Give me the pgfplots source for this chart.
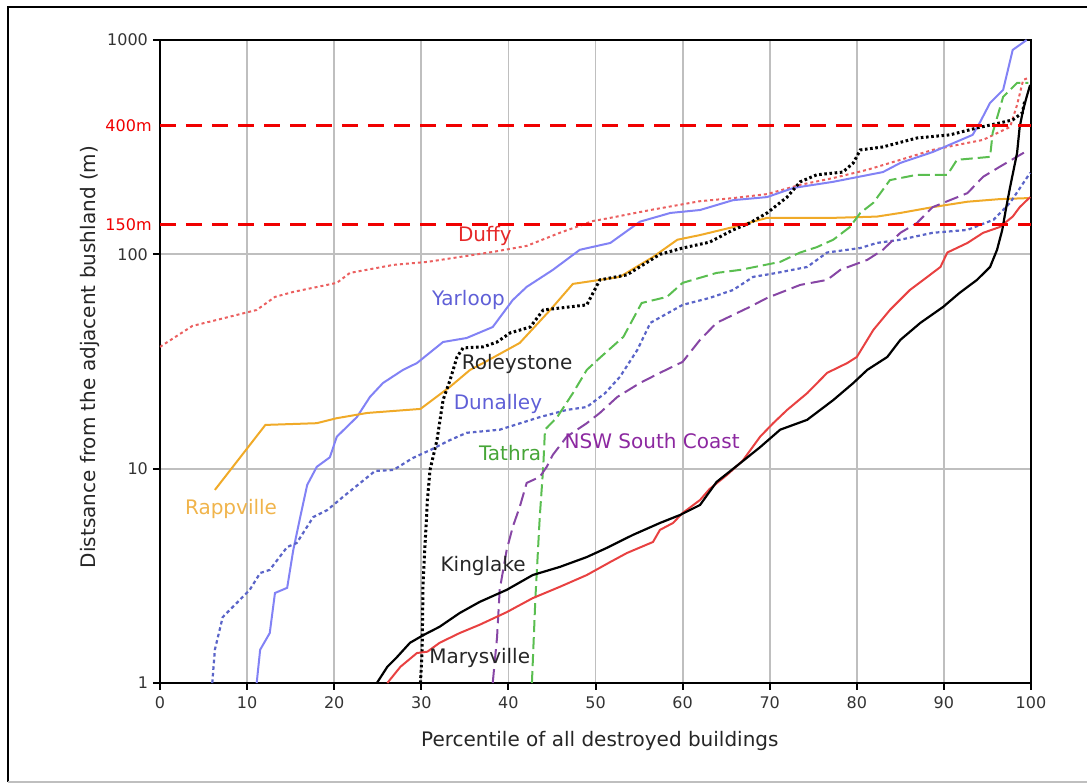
\documentclass[border=0pt]{standalone}
\usepackage{pgfplots}
\pgfplotsset{compat=1.18}
\usepackage{fontspec}
\setmainfont{DejaVu Sans}
\definecolor{duffy}{RGB}{235,95,95}
\definecolor{duffyl}{RGB}{230,40,40}
\definecolor{mary}{RGB}{232,65,65}
\definecolor{yarl}{RGB}{130,130,245}
\definecolor{yarll}{RGB}{95,95,215}
\definecolor{dunal}{RGB}{90,100,200}
\definecolor{rapp}{RGB}{240,170,40}
\definecolor{rappl}{RGB}{240,180,75}
\definecolor{tath}{RGB}{90,190,80}
\definecolor{tathl}{RGB}{70,165,55}
\definecolor{nsw}{RGB}{135,70,165}
\definecolor{nswl}{RGB}{140,40,160}
\definecolor{refred}{RGB}{240,0,0}
\begin{document}
\begin{tikzpicture}
\begin{axis}[
  at={(0,0)}, anchor=south west,
  scale only axis, width=435.5pt, height=321.5pt,
  xmin=0, xmax=100, ymin=1, ymax=1000, ymode=log,
  xtick={0,10,...,100}, ytick={1,10,100,1000}, yticklabels={1,10,100,1000},
  yminorticks=false,
  grid=major, major grid style={gray!50, line width=0.9pt},
  axis line style={line width=1.4pt},
  tick style={black, line width=1pt}, tick align=outside, major tick length=3.5pt,
  xtick pos=bottom, ytick pos=left,
  ticklabel style={font=\fontsize{8}{9}\selectfont, text=black!80},
  yticklabel style={xshift=1pt},
  /pgf/number format/assume math mode=true,
  xlabel={Percentile of all destroyed buildings},
  ylabel={Distsance from the adjacent bushland (m)},
  label style={font=\fontsize{10}{12}\selectfont, text=black!85},
  x label style={at={(axis description cs:0.505,-0.09)}, anchor=center},
  y label style={at={(axis description cs:-0.08,0.507)}, anchor=center},
  clip mode=individual,
]
% Duffy
\addplot[duffy, line width=1pt, dash pattern=on 1.5pt off 1.5pt] coordinates {
(0,37.0) (3.7,46.3) (11.1,55.0) (13.2,63.3) (15.3,66.8) (20.3,73.6) (21.8,81.9) (26.8,89.3) (30.7,92.2) (34.4,97.2) (38.2,102.6) (42.1,109.5) (45.9,126) (49.7,143) (51.7,148) (56.3,161) (62.0,177) (65.8,183) (69.7,191) (73.5,211) (77.3,227) (81.2,248) (85.0,276) (88.7,307) (92.7,331) (94.5,342) (97.6,393) (98.4,498) (99.1,651) (99.7,666)};
% Yarloop
\addplot[yarl, line width=1pt] coordinates {
(11.1,1.0) (11.5,1.43) (12.6,1.71) (13.2,2.63) (14.6,2.78) (15.3,4.17) (16.1,5.95) (16.9,8.4) (18.0,10.2) (19.5,11.3) (20.3,14.1) (22.6,17.4) (24.1,21.6) (25.6,25.1) (27.9,28.9) (29.5,31.1) (32.5,39.0) (35.2,40.7) (38.2,45.8) (40.5,61.2) (42.1,70.5) (45.1,84.6) (48.2,105) (51.7,113) (55.1,142) (58.6,156) (62.0,161) (65.8,179) (69.7,185) (72.7,204) (77.3,218) (83.0,242) (85.0,267) (88.7,300) (93.3,361) (94.1,410) (95.3,509) (96.8,585) (97.9,899) (99.5,1000)};
% Rappville
\addplot[rapp, line width=1pt] coordinates {
(6.3,7.96) (12.1,16.0) (18.0,16.3) (20.3,17.2) (23.8,18.2) (29.9,19.0) (33.3,24.1) (35.6,28.9) (37.1,31.1) (41.3,38.6) (44.8,55.0) (47.4,72.8) (50.5,76.0) (52.8,78.5) (56.6,97.2) (59.4,117) (62.0,123) (65.8,134) (69.7,148) (77.3,148) (82.3,150) (85.0,156) (88.7,166) (92.7,176) (96.4,181) (99.7,183)};
% Roleystone
\addplot[black, line width=1.5pt, dash pattern=on 1.3pt off 1.3pt] coordinates {
(29.9,1.0) (30.1,1.43) (30.2,2.93) (30.7,7.14) (31.0,9.86) (31.8,13.6) (32.5,20.9) (33.3,25.9) (34.1,33.2) (34.8,36.6) (37.1,37.0) (38.7,39.0) (40.2,43.0) (42.5,45.8) (44.0,55.0) (49.0,58.1) (50.5,76.0) (53.6,80.2) (57.4,100) (60.0,107) (63.1,114) (65.8,130) (67.7,140) (69.7,156) (72.0,185) (73.5,218) (75.4,235) (78.4,242) (79.6,267) (80.4,307) (83.0,317) (86.9,349) (90.7,361) (93.8,389) (96.4,410) (97.9,424) (99.0,457) (99.3,525)};
% Dunalley
\addplot[dunal, line width=1.1pt, dash pattern=on 1.8pt off 1.5pt] coordinates {
(6.0,1.0) (6.3,1.43) (7.2,2.03) (8.8,2.36) (10.3,2.72) (11.5,3.26) (12.6,3.37) (14.6,4.31) (15.7,4.50) (17.6,5.95) (19.2,6.41) (21.0,7.38) (24.7,9.76) (26.8,9.86) (29.0,11.2) (31.0,12.2) (33.3,13.6) (35.2,14.7) (39.0,15.2) (43.6,17.4) (46.7,18.8) (49.0,19.4) (51.1,22.5) (52.8,26.8) (54.8,35.8) (56.3,47.9) (60.0,58.1) (63.1,62.6) (65.8,68.2) (68.1,78.5) (70.8,81.9) (74.3,87.3) (76.6,102) (80.4,107) (82.3,113) (85.0,117) (88.7,126) (92.7,130) (95.7,145) (97.6,174) (99.9,240)};
% Tathra
\addplot[tath, line width=1pt, dash pattern=on 6pt off 2.5pt] coordinates {
(42.7,1.0) (43.1,2.49) (43.6,5.95) (44.0,10.2) (44.2,15.2) (45.6,17.4) (47.4,22.5) (49.0,28.9) (50.5,32.9) (53.2,41.2) (55.3,59.3) (58.2,63.3) (60.0,73.6) (63.9,81.9) (66.6,84.6) (71.2,92.2) (73.5,102) (75.4,108) (77.3,117) (79.2,134) (80.4,156) (81.9,174) (83.8,222) (86.9,235) (90.4,235) (91.5,276) (95.3,285) (95.6,369) (96.8,543) (98.4,631) (99.7,631)};
% NSW South Coast
\addplot[nsw, line width=1pt, dash pattern=on 7pt off 3pt] coordinates {
(38.2,1.0) (38.7,1.64) (39.0,2.72) (39.8,4.17) (40.5,5.35) (41.3,6.63) (42.1,8.58) (43.6,9.15) (44.4,10.2) (45.1,11.6) (46.7,14.1) (49.0,16.3) (50.5,18.2) (52.5,21.6) (55.1,25.1) (57.4,28.0) (60.0,31.5) (62.0,39.9) (63.9,47.9) (67.7,56.8) (69.7,62.6) (73.5,72.0) (76.6,76.0) (78.1,84.6) (81.2,94.2) (83.0,105) (85.0,126) (86.9,140) (88.7,166) (92.7,193) (94.5,230) (96.4,256) (99.3,300)};
% Marysville
\addplot[mary, line width=1pt] coordinates {
(26.1,1.0) (27.6,1.19) (29.5,1.38) (30.7,1.40) (32.1,1.54) (34.4,1.71) (36.7,1.87) (39.8,2.14) (42.8,2.49) (45.9,2.81) (49.0,3.19) (51.7,3.67) (53.6,4.04) (56.6,4.55) (57.4,5.18) (58.9,5.58) (60.0,6.21) (62.0,7.14) (63.1,8.04) (65.1,9.35) (66.9,10.9) (68.9,14.1) (70.4,16.3) (72.0,18.8) (74.3,22.5) (76.6,28.0) (78.9,31.1) (80.0,33.2) (81.9,44.4) (83.8,55.0) (86.1,68.2) (88.1,78.5) (89.6,87.3) (90.4,102) (92.7,113) (94.5,126) (96.4,134) (97.9,150) (98.7,166) (99.9,185)};
% Kinglake
\addplot[black, line width=1.1pt] coordinates {
(24.9,1.0) (26.1,1.19) (27.2,1.32) (28.7,1.54) (30.2,1.67) (32.1,1.83) (34.4,2.12) (36.7,2.39) (39.8,2.72) (42.8,3.19) (45.9,3.48) (49.0,3.87) (51.3,4.27) (54.3,4.91) (57.4,5.58) (59.7,6.08) (62.0,6.77) (63.9,8.67) (66.6,10.6) (68.9,12.6) (71.2,15.2) (74.3,16.9) (77.3,20.9) (79.6,25.1) (81.2,28.9) (83.5,33.2) (85.0,39.9) (87.3,47.9) (89.9,56.8) (91.8,66.1) (93.8,76.0) (95.3,87.3) (96.1,105) (96.7,130) (97.1,161) (97.6,206) (98.4,297) (98.7,393) (99.1,472) (99.5,543) (99.9,617)};
% reference lines (drawn where they sit in the picture)
\addplot[refred, line width=1.6pt, dash pattern=on 8pt off 5pt] coordinates {(0,400) (100,400)};
\addplot[refred, line width=1.6pt, dash pattern=on 8pt off 5pt] coordinates {(0,138) (100,138)};
% labels
\node[text=duffyl] at (axis cs:37.3,122) {Duffy};
\node[text=yarll] at (axis cs:35.4,61.2) {Yarloop};
\node[text=black!85] at (axis cs:41.0,30.8) {Roleystone};
\node[text=yarll] at (axis cs:38.8,20.0) {Dunalley};
\node[text=tathl] at (axis cs:40.2,11.8) {Tathra};
\node[text=nswl] at (axis cs:56.5,13.5) {NSW South Coast};
\node[text=rappl] at (axis cs:8.15,6.49) {Rappville};
\node[text=black!85] at (axis cs:37.1,3.52) {Kinglake};
\node[text=black!85] at (axis cs:36.7,1.31) {Marysville};
\node[text=refred, anchor=east, font=\fontsize{8}{9}\selectfont, inner sep=1pt] at (axis cs:0,400) [xshift=-3pt] {400m};
\node[text=refred, anchor=east, font=\fontsize{8}{9}\selectfont, inner sep=1pt] at (axis cs:0,138) [xshift=-3pt] {150m};
\end{axis}
\draw[black, line width=1pt] (-76pt,-49.5pt) -- (-76pt,338pt) -- (470pt,338pt);
\draw[black!25, line width=0.6pt] (-76pt,-49.5pt) -- (470pt,-49.5pt);
\pgfresetboundingbox
\useasboundingbox (-80pt,-50pt) rectangle (463.5pt,341.5pt);
\end{tikzpicture}
\end{document}
